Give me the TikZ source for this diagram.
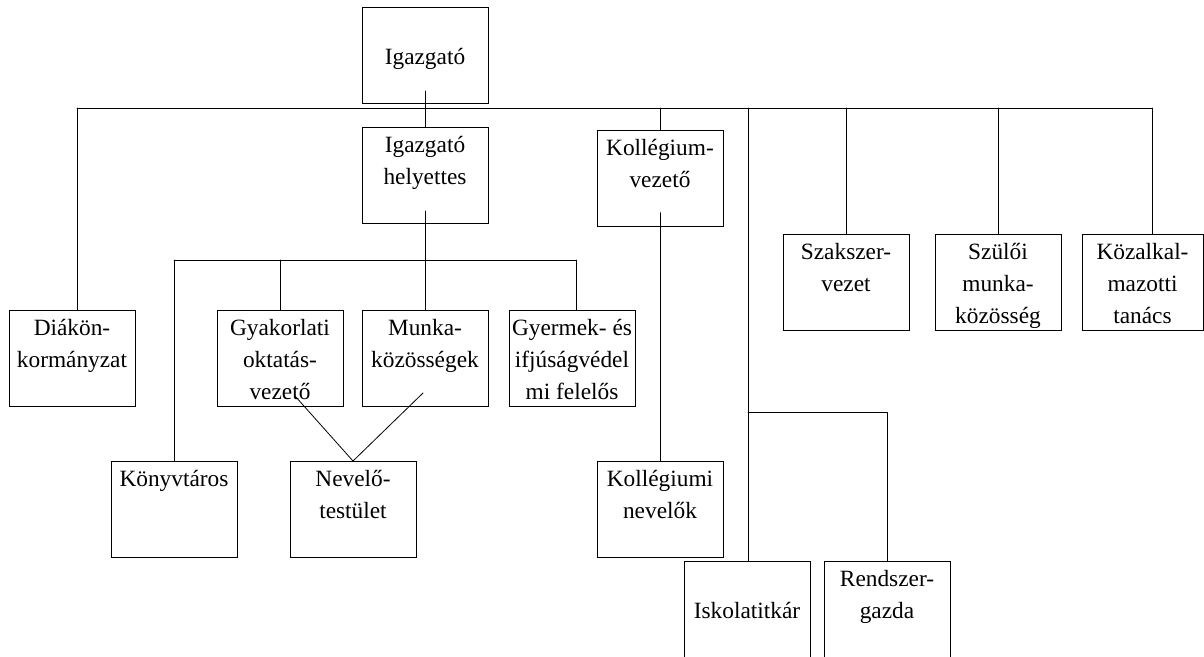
\documentclass[tikz,border=0pt]{standalone}
\usepackage{fontspec}
\setmainfont{Liberation Serif}
\usepackage{xcolor}
\usepackage{tikz}

\newcommand{\orgtext}[2][94.5pt]{\parbox[c][72pt][t]{#1}{\centering\rule{0pt}{18.75pt}#2}}
\tikzset{
  orgbox/.style={draw=drawColor,line width=0.7pt,inner sep=0pt,outer sep=0pt,anchor=north west,font=\fontsize{17.5}{24}\selectfont},
  link/.style={draw=drawColor,line width=0.6pt,line join=round,line cap=round}
}

\begin{document}
\begin{tikzpicture}[x=0.75pt,y=-0.75pt]
\definecolor{drawColor}{RGB}{0,0,0}
\path[use as bounding box] (0,0) rectangle (1204,657);

\node[orgbox] (igazgato) at (362,7) {\orgtext{\mbox{}\\Igazgató}};
\node[orgbox] (helyettes) at (362,127) {\orgtext{Igazgató\\helyettes}};
\node[orgbox] (kollvez) at (597,130) {\orgtext{Kollégium-\\vezető}};

\node[orgbox] (szakszer) at (783,234) {\orgtext{Szakszer-\\vezet}};
\node[orgbox] (szuloi) at (935,234) {\orgtext{Szülői\\munka-\\közösség}};
\node[orgbox] (kozalk) at (1082,234) {\orgtext[90.75pt]{Közalkal-\\mazotti\\tanács}};

\node[orgbox] (diakon) at (9,310) {\orgtext{Diákön-\\kormányzat}};
\node[orgbox] (gyakorlati) at (217,310) {\orgtext{Gyakorlati\\oktatás-\\vezető}};
\node[orgbox] (munka) at (362,310) {\orgtext{Munka-\\közösségek}};
\node[orgbox] (gyermek) at (509,310) {\orgtext{Gyermek- és\\ifjúságvédel\\mi felelős}};

\node[orgbox] (konyvtaros) at (111,461) {\orgtext{Könyvtáros}};
\node[orgbox] (nevelo) at (290,461) {\orgtext{Nevelő-\\testület}};
\node[orgbox] (kollnev) at (597,461) {\orgtext{Kollégiumi\\nevelők}};

\node[orgbox] (iskola) at (684,561) {\orgtext{\mbox{}\\Iskolatitkár}};
\node[orgbox] (rendszer) at (824,561) {\orgtext{Rendszer-\\gazda}};

\coordinate (busL) at (77,108);
\coordinate (busR) at (1152,108);
\coordinate (bus2L) at (174,260);
\coordinate (bus2R) at (576,260);
\coordinate (staff) at (748,412);

\path[link] (busL) -- (busR);
\path[link] ([yshift=9pt]igazgato.south) -- (helyettes.north);
\path[link] (busL) -- (busL |- diakon.north);
\path[link] (kollvez.north |- busL) -- (kollvez.north);
\path[link] (staff |- busL) -- (staff |- iskola.north);
\path[link] (staff) -| (rendszer.north);
\path[link] (szakszer.north |- busL) -- (szakszer.north);
\path[link] (szuloi.north |- busL) -- (szuloi.north);
\path[link] (busR) -- (busR |- kozalk.north);

\path[link] ([yshift=9pt]helyettes.south) -- (munka.north);
\path[link] (bus2L) -- (bus2R);
\path[link] (bus2L) -- (bus2L |- konyvtaros.north);
\path[link] (gyakorlati.north |- bus2L) -- (gyakorlati.north);
\path[link] (bus2R) -- (bus2R |- gyermek.north);

\path[link] ([shift={(15,-10)}]gyakorlati.south) -- (nevelo.north);
\path[link] ([shift={(-2,-13)}]munka.south) -- (nevelo.north);

\path[link] ([yshift=10pt]kollvez.south) -- (kollnev.north);
\end{tikzpicture}
\end{document}
